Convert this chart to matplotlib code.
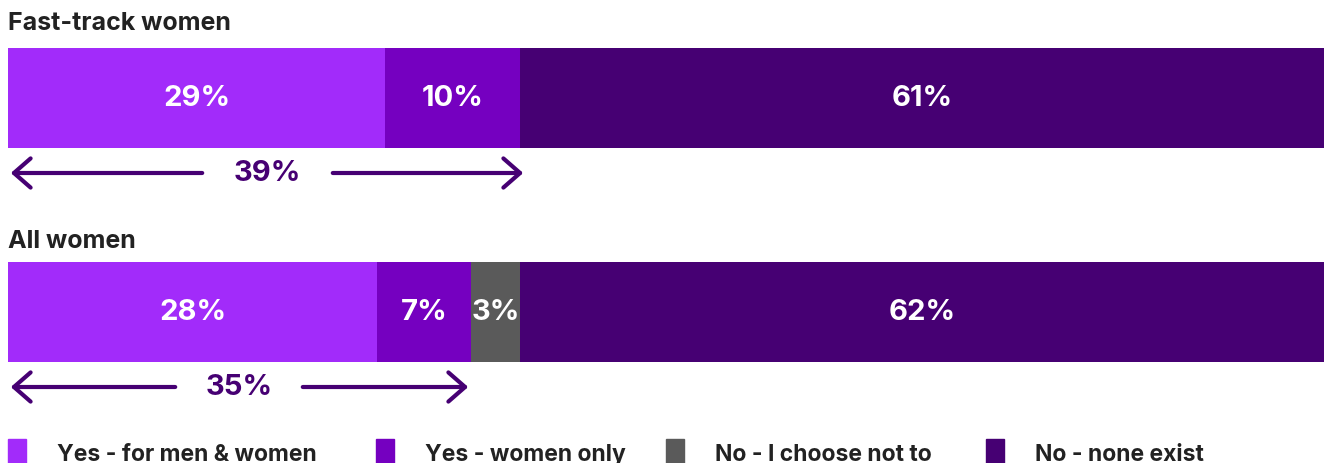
from matplotlib import pyplot as plt
from matplotlib.patches import FancyArrowPatch
import numpy as np

plt.rcParams['font.family'] = ['Inter', 'DejaVu Sans']

groups = ['Fast-track women', 'All women']
categories = ['Yes - for men & women', 'Yes - women only', 'No - I choose not to', 'No - none exist']
values = {
    'Fast-track women': [29, 10, 0, 61],
    'All women': [28, 7, 3, 62],
}
bar_edges = {
    # segment widths as drawn (pixels of a 1316 px wide bar)
    'Fast-track women': [377, 135, 0, 804],
    'All women': [369, 94, 49, 804],
}
yes_totals = [39, 35]
colors = ['#A22BFA', '#7500C0', '#5A5A5A', '#460073']
dark = '#460073'

W, H = 1325, 464
fig = plt.figure(figsize=(W / 100, H / 100), dpi=100)
ax = fig.add_axes([8 / W, 0, 1316 / W, 1])
ax.set_xlim(0, 1316)
ax.set_ylim(H, 0)
ax.axis('off')

bar_y = [98.5, 312.5]
title_y = [24, 242]
arrow_y = [174, 388]
label_gap = [(197, 322), (170, 292)]

for i, g in enumerate(groups):
    widths = np.array(bar_edges[g])
    lefts = np.concatenate([[0], np.cumsum(widths)[:-1]])
    for j in range(len(categories)):
        if widths[j] == 0:
            continue
        ax.barh(bar_y[i], widths[j], left=lefts[j], height=100, color=colors[j], linewidth=0)
        ax.text(lefts[j] + widths[j] / 2, bar_y[i], f'{values[g][j]}%', ha='center', va='center',
                color='white', fontsize=21, fontweight='bold')
    ax.text(0, title_y[i], g, ha='left', va='center', fontsize=18, fontweight='bold', color='#222222')

    end = widths[0] + widths[1] + (6 if i == 0 else 0)
    y = arrow_y[i]
    a, b = label_gap[i]
    ax.add_patch(FancyArrowPatch((a, y), (0, y), arrowstyle='->,head_length=8,head_width=7',
                                 color=dark, lw=3, mutation_scale=1.5))
    ax.add_patch(FancyArrowPatch((b, y), (end, y), arrowstyle='->,head_length=8,head_width=7',
                                 color=dark, lw=3, mutation_scale=1.5))
    ax.text((a + b) / 2, y, f'{yes_totals[i]}%', ha='center', va='center', fontsize=21,
            fontweight='bold', color=dark)

leg_x = [0, 368, 658, 978]
for j, c in enumerate(categories):
    ax.add_patch(plt.Rectangle((leg_x[j], 440), 18, 30, color=colors[j], clip_on=False))
    ax.text(leg_x[j] + 49, 455, c, ha='left', va='center', fontsize=16.5, fontweight='bold', color='#222222')

fig.savefig('out.png', dpi=100)
